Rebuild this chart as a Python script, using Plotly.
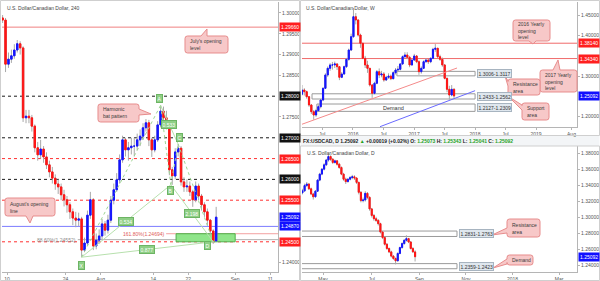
import plotly.graph_objects as go
import pandas as pd

W, H = 600, 281
FONT = "Liberation Sans"
FS = 5

def PX(x):
    return x / W

def PY(y):
    return 1 - y / H

# ---------------- 4H panel (left) ----------------
h4_first_open = 1.2988
h4_close = [1.2983, 1.2877, 1.2889, 1.2897, 1.2911, 1.2926, 1.2916, 1.2748, 1.2752, 1.2748,
            1.2728, 1.2676, 1.2659, 1.2673, 1.2654, 1.2635, 1.2618, 1.2603, 1.2589, 1.2582,
            1.2563, 1.2551, 1.2539, 1.2522, 1.2507, 1.2502, 1.2505, 1.2430, 1.2447, 1.2514,
            1.2551, 1.2440, 1.2454, 1.2464, 1.2493, 1.2478, 1.2502, 1.2550, 1.2575, 1.2599,
            1.2647, 1.2695, 1.2671, 1.2676, 1.2680, 1.2680, 1.2695, 1.2704, 1.2724, 1.2736,
            1.2695, 1.2671, 1.2695, 1.2731, 1.2764, 1.2748, 1.2733, 1.2623, 1.2608, 1.2666,
            1.2675, 1.2594, 1.2582, 1.2584, 1.2570, 1.2551, 1.2584, 1.2560, 1.2539, 1.2522,
            1.2502, 1.2476, 1.2452, 1.25092]
h4_high = [1.2995, 1.2988, 1.2905, 1.2912, 1.2925, 1.2935, 1.2932, 1.2920, 1.2767, 1.2767,
           1.2755, 1.2732, 1.2690, 1.2695, 1.2680, 1.2665, 1.2645, 1.2630, 1.2612, 1.2600,
           1.2590, 1.2575, 1.2560, 1.2545, 1.2530, 1.2522, 1.2520, 1.2510, 1.2460, 1.2525,
           1.2570, 1.2555, 1.2470, 1.2480, 1.2505, 1.2500, 1.2515, 1.2560, 1.2590, 1.2615,
           1.2660, 1.2705, 1.2700, 1.2690, 1.2700, 1.2700, 1.2710, 1.2720, 1.2735, 1.2745,
           1.2743, 1.2700, 1.2705, 1.2740, 1.2778, 1.2775, 1.2765, 1.2740, 1.2630, 1.2675,
           1.2685, 1.2680, 1.2605, 1.2600, 1.2595, 1.2575, 1.2595, 1.2590, 1.2565, 1.2545,
           1.2530, 1.2505, 1.2480, 1.2534]
h4_low = [1.2976, 1.2858, 1.2868, 1.2880, 1.2890, 1.2905, 1.2900, 1.2738, 1.2735, 1.2735,
          1.2715, 1.2665, 1.2645, 1.2650, 1.2640, 1.2625, 1.2605, 1.2590, 1.2575, 1.2565,
          1.2550, 1.2535, 1.2520, 1.2505, 1.2490, 1.2485, 1.2488, 1.2413, 1.2425, 1.2440,
          1.2505, 1.2430, 1.2432, 1.2445, 1.2455, 1.2465, 1.2470, 1.2495, 1.2540, 1.2570,
          1.2590, 1.2640, 1.2655, 1.2645, 1.2660, 1.2655, 1.2670, 1.2680, 1.2695, 1.2715,
          1.2680, 1.2654, 1.2665, 1.2690, 1.2725, 1.2735, 1.2720, 1.2610, 1.2587, 1.2600,
          1.2655, 1.2585, 1.2570, 1.2570, 1.2560, 1.2534, 1.2545, 1.2550, 1.2525, 1.2510,
          1.2490, 1.2465, 1.2445, 1.2450]
# trading-day index (0 = 10 Jul), one bar per half day
h4_day = [-0.75 + 0.5 * i for i in range(len(h4_close))]
h4_tick_day = [0, 10, 16, 25, 31, 39, 45]
h4_tick_text = ["10", "24", "Aug", "14", "22", "Sep", "11"]
h4_ytick = [1.24, 1.275, 1.285, 1.29, 1.295, 1.30]
h4_black_levels = [1.28, 1.27, 1.26]
h4_red_levels = [1.265, 1.255, 1.245]
july_open = 1.2966
aug_open = 1.2487
last_price = 1.25092
h4_price_tags = [(1.2966, "#ff1f1f"), (1.28, "#111111"), (1.27, "#111111"), (1.265, "#ff1f1f"),
                 (1.26, "#111111"), (1.255, "#ff1f1f"), (1.25092, "#1010ff"), (1.2487, "#1010ff"),
                 (1.245, "#ff1f1f")]
pattern_names = ["X", "A", "B", "C", "D"]
pattern_day = [12.75, 26.25, 28.0, 29.25, 35.25]
pattern_price = [1.2413, 1.2778, 1.2587, 1.2685, 1.2450]
pattern_ratios = [("0.534", 0, 2), ("0.533", 1, 3), ("2.198", 2, 4), ("0.877", 0, 4)]
prz_day = [28.9, 39.0]
prz_price = [1.2450, 1.24694]
fib_levels = [1.24694, 1.24552]
fib_text = ["161.80%(1.24694)", "88.60%(1.24552)"]
fib_start_day = [27.2, 12.1]

# ---------------- Weekly panel (top right) ----------------
w_first_open = 1.2550
w_close = [1.2656, 1.2614, 1.2490, 1.2285, 1.2119, 1.2037, 1.2144, 1.2243, 1.2408, 1.2698,
           1.3027, 1.3193, 1.3275, 1.3275, 1.3300, 1.3233, 1.2970, 1.3052, 1.3233, 1.3415,
           1.3646, 1.3975, 1.4470, 1.4389, 1.4017, 1.3812, 1.3440, 1.3275, 1.3193, 1.2780,
           1.2574, 1.2822, 1.3109, 1.3027, 1.3052, 1.2903, 1.2970, 1.3000, 1.2936, 1.3084,
           1.3151, 1.3168, 1.3300, 1.3480, 1.3522, 1.3465, 1.3275, 1.3398, 1.3498, 1.3356,
           1.3109, 1.3193, 1.3356, 1.3398, 1.3356, 1.3440, 1.3663, 1.3688, 1.3480, 1.3415,
           1.3275, 1.2945, 1.2673, 1.2532, 1.2673, 1.25092]
w_high = [1.2780, 1.2700, 1.2640, 1.2500, 1.2310, 1.2160, 1.2190, 1.2300, 1.2430, 1.2720,
          1.3070, 1.3240, 1.3320, 1.3350, 1.3360, 1.3320, 1.3250, 1.3100, 1.3260, 1.3450,
          1.3680, 1.4050, 1.4690, 1.4560, 1.4400, 1.4050, 1.3820, 1.3500, 1.3380, 1.3200,
          1.2800, 1.2860, 1.3150, 1.3190, 1.3130, 1.3100, 1.3010, 1.3070, 1.3040, 1.3120,
          1.3200, 1.3250, 1.3320, 1.3510, 1.3590, 1.3590, 1.3500, 1.3420, 1.3550, 1.3520,
          1.3390, 1.3240, 1.3390, 1.3440, 1.3420, 1.3460, 1.3700, 1.3793, 1.3700, 1.3530,
          1.3460, 1.3300, 1.2960, 1.2760, 1.2778, 1.2700]
w_low = [1.2520, 1.2520, 1.2440, 1.2240, 1.2060, 1.1920, 1.1990, 1.2110, 1.2200, 1.2380,
         1.2680, 1.2980, 1.3130, 1.3160, 1.3200, 1.3150, 1.2900, 1.2950, 1.3030, 1.3200,
         1.3380, 1.3620, 1.3950, 1.4280, 1.3980, 1.3700, 1.3420, 1.3200, 1.3080, 1.2740,
         1.2460, 1.2550, 1.2800, 1.2950, 1.2970, 1.2860, 1.2880, 1.2930, 1.2900, 1.2920,
         1.3040, 1.3100, 1.3140, 1.3280, 1.3450, 1.3420, 1.3220, 1.3260, 1.3380, 1.3320,
         1.3030, 1.3060, 1.3180, 1.3330, 1.3300, 1.3320, 1.3420, 1.3600, 1.3450, 1.3380,
         1.3230, 1.2920, 1.2600, 1.2413, 1.2500, 1.2450]
w_dates = pd.date_range("2015-03-02", periods=len(w_close), freq="14D")
w_tick_dates = ["2015-07-01", "2016-01-01", "2016-07-01", "2017-01-01", "2017-07-01",
                "2018-01-01", "2018-07-01", "2019-01-01", "2019-08-01"]
w_tick_text = ["Jul", "2016", "Jul", "2017", "Jul", "2018", "Jul", "2019", "Aug"]
w_ytick = [1.20, 1.30, 1.40, 1.45]
open_2016 = 1.3814
open_2017 = 1.3434
w_price_tags = [(1.3814, "#ff1f1f"), (1.3434, "#ff1f1f"), (1.25092, "#1010ff")]
w_zones = [("1.3006-1.3117", 1.3006, 1.3117, "2016-09-20"),
           ("1.2433-1.2562", 1.2433, 1.2562, "2015-05-01"),
           ("1.2127-1.2309", 1.2127, 1.2309, "2015-05-30")]
w_zone_end = "2018-01-01"
red_trend = (["2015-02-18", "2017-09-15"], [1.179, 1.320])
blue_trend = (["2016-06-11", "2018-01-01"], [1.1748, 1.2639])

# ---------------- Daily panel (bottom right) ----------------
d_first_open = 1.3310
d_close = [1.3334, 1.3400, 1.3420, 1.3360, 1.3295, 1.3260, 1.3330, 1.3469, 1.3544, 1.3606,
           1.3660, 1.3720, 1.3764, 1.3730, 1.3690, 1.3710, 1.3668, 1.3627, 1.3544, 1.3480,
           1.3450, 1.3480, 1.3500, 1.3510, 1.3495, 1.3440, 1.3316, 1.3212, 1.3220, 1.3303,
           1.3253, 1.3108, 1.3026, 1.2985, 1.2964, 1.2923, 1.2819, 1.2749, 1.2666, 1.2612,
           1.2570, 1.2517, 1.2487, 1.2458, 1.2550, 1.2624, 1.2674, 1.2715, 1.2736, 1.2694,
           1.2612, 1.2570, 1.25092]
d_high = [1.3360, 1.3425, 1.3445, 1.3430, 1.3375, 1.3310, 1.3345, 1.3480, 1.3560, 1.3620,
          1.3680, 1.3735, 1.3793, 1.3780, 1.3745, 1.3725, 1.3720, 1.3685, 1.3640, 1.3560,
          1.3500, 1.3495, 1.3520, 1.3535, 1.3530, 1.3505, 1.3450, 1.3330, 1.3250, 1.3330,
          1.3320, 1.3265, 1.3120, 1.3045, 1.3010, 1.2980, 1.2935, 1.2830, 1.2760, 1.2680,
          1.2625, 1.2585, 1.2530, 1.2500, 1.2565, 1.2635, 1.2690, 1.2730, 1.2778, 1.2745,
          1.2705, 1.2630, 1.2590]
d_low = [1.3290, 1.3320, 1.3385, 1.3345, 1.3280, 1.3225, 1.3250, 1.3320, 1.3455, 1.3530,
         1.3590, 1.3645, 1.3700, 1.3710, 1.3670, 1.3675, 1.3650, 1.3610, 1.3530, 1.3460,
         1.3420, 1.3440, 1.3465, 1.3480, 1.3470, 1.3420, 1.3290, 1.3190, 1.3190, 1.3200,
         1.3230, 1.3085, 1.3000, 1.2960, 1.2945, 1.2900, 1.2800, 1.2730, 1.2650, 1.2595,
         1.2555, 1.2500, 1.2470, 1.2413, 1.2450, 1.2540, 1.2610, 1.2660, 1.2700, 1.2680,
         1.2600, 1.2560, 1.2450]
# trading-day index (0 = 27 Mar 2017), one bar per two days
d_idx = [6 + 2 * k for k in range(len(d_close))]
d_tick_idx = [25, 70, 114, 157, 200, 243]
d_tick_text = ["May", "Jul", "Sep", "Nov", "2018", "Mar"]
d_ytick = [1.24, 1.26, 1.28, 1.30, 1.32, 1.34, 1.36, 1.38]
d_price_tags = [(1.25092, "#1010ff")]
d_zones = [("1.2831-1.2763", 1.2763, 1.2831), ("1.2359-1.2423", 1.2359, 1.2423)]
d_zone_end = 148.7

hdr_close, hdr_change, hdr_pct = 1.25092, 0.00019, 0.02
hdr_o, hdr_h, hdr_l, hdr_c = 1.25073, 1.25343, 1.25041, 1.25092

# ---------------------------------------------------------------
fig = go.Figure()
shapes, annotations = [], []


def add_candles(x, first_open, c, h, l, xa, ya):
    o = [first_open] + c[:-1]
    hi = [max(a, b, d) for a, b, d in zip(h, o, c)]
    lo = [min(a, b, d) for a, b, d in zip(l, o, c)]
    bh = [max(a, b) for a, b in zip(o, c)]
    bl = [min(a, b) for a, b in zip(o, c)]
    g = "#a9a9a9"
    fig.add_trace(go.Candlestick(x=x, open=o, high=hi, low=lo, close=c, xaxis=xa, yaxis=ya,
                                 increasing=dict(line=dict(color=g, width=1), fillcolor=g),
                                 decreasing=dict(line=dict(color=g, width=1), fillcolor=g),
                                 whiskerwidth=0, hoverinfo="skip", showlegend=False))
    fig.add_trace(go.Candlestick(x=x, open=o, high=bh, low=bl, close=c, xaxis=xa, yaxis=ya,
                                 increasing=dict(line=dict(color="#1414ff", width=1), fillcolor="#1414ff"),
                                 decreasing=dict(line=dict(color="#ff1414", width=1), fillcolor="#ff1414"),
                                 whiskerwidth=0, hoverinfo="skip", showlegend=False))


add_candles(h4_day, h4_first_open, h4_close, h4_high, h4_low, "x", "y")
add_candles(w_dates, w_first_open, w_close, w_high, w_low, "x2", "y2")
add_candles(d_idx, d_first_open, d_close, d_high, d_low, "x3", "y3")


def hline(price, xref, yref, color, dash="solid", width=1, x0=0, x1=1):
    shapes.append(dict(type="line", xref=xref, yref=yref, x0=x0, x1=x1, y0=price, y1=price,
                       line=dict(color=color, width=width, dash=dash), layer="below"))


def price_tag(price, color, yref, xpx):
    annotations.append(dict(text=f"{price:.5f}", x=PX(xpx), xref="paper", xanchor="left",
                            y=price, yref=yref, yanchor="middle", showarrow=False,
                            bgcolor=color, borderpad=1,
                            font=dict(family=FONT, size=FS, color="white")))


def zone_tag(text, price, yref, xpx):
    annotations.append(dict(text=text, x=PX(xpx), xref="paper", xanchor="left",
                            y=price, yref=yref, yanchor="middle", showarrow=False,
                            bgcolor="#dfe7ee", bordercolor="#a7b4c0", borderwidth=1, borderpad=0.5,
                            font=dict(family=FONT, size=FS, color="#333")))


def callout(text, x0, y0, x1, y1, side, b1, b2, tip, r=2.5):
    def P(x, y):
        return f"{PX(x):.5f},{PY(y):.5f}"
    s = f"M {P(x0 + r, y0)}"
    if side == "top":
        s += f" L {P(b1, y0)} L {P(*tip)} L {P(b2, y0)}"
    s += f" L {P(x1 - r, y0)} Q {P(x1, y0)} {P(x1, y0 + r)}"
    if side == "right":
        s += f" L {P(x1, b1)} L {P(*tip)} L {P(x1, b2)}"
    s += f" L {P(x1, y1 - r)} Q {P(x1, y1)} {P(x1 - r, y1)}"
    if side == "bottom":
        s += f" L {P(b2, y1)} L {P(*tip)} L {P(b1, y1)}"
    s += f" L {P(x0 + r, y1)} Q {P(x0, y1)} {P(x0, y1 - r)}"
    if side == "left":
        s += f" L {P(x0, b2)} L {P(*tip)} L {P(x0, b1)}"
    s += f" L {P(x0, y0 + r)} Q {P(x0, y0)} {P(x0 + r, y0)} Z"
    shapes.append(dict(type="path", path=s, xref="paper", yref="paper", fillcolor="#f7c8c8",
                       line=dict(color="#e78c8c", width=1), layer="above"))
    annotations.append(dict(text=text, x=PX(x0 + 3), y=PY((y0 + y1) / 2), xref="paper", yref="paper",
                            xanchor="left", yanchor="middle", align="left", showarrow=False,
                            font=dict(family=FONT, size=FS, color="#3a3a3a")))


# ---- left panel decorations ----
for p in h4_black_levels:
    hline(p, "x domain", "y", "#1a1a1a", "dot")
for p in h4_red_levels:
    hline(p, "x domain", "y", "#ff3030", "dot")
hline(july_open, "x domain", "y", "#f08080")
hline(aug_open, "x domain", "y", "#7b7bff")
H4_XMAX = 46.32
for lvl, txt, sd, col in zip(fib_levels, fib_text, fib_start_day, ["#f3a0a0", "#b0b0b0"]):
    hline(lvl, "x", "y", col, "solid", 1, sd, H4_XMAX)
    annotations.append(dict(text=txt, x=sd, xref="x", xanchor="right", y=lvl, yref="y",
                            yanchor="middle", showarrow=False,
                            font=dict(family=FONT, size=FS, color="#e05a5a" if col == "#f3a0a0" else "#8a8a8a")))
shapes.append(dict(type="rect", xref="x", yref="y", x0=prz_day[0], x1=prz_day[1], y0=prz_price[0],
                   y1=prz_price[1], fillcolor="#8fe58a", line=dict(color="#4fb04a", width=1), layer="below"))

# harmonic pattern
zig = [(0, 1), (1, 2), (2, 3), (3, 4)]
diag = [(0, 2), (1, 3), (2, 4), (0, 4)]
for a, b in zig:
    fig.add_trace(go.Scatter(x=[pattern_day[a], pattern_day[b]], y=[pattern_price[a], pattern_price[b]],
                             xaxis="x", yaxis="y", mode="lines", hoverinfo="skip", showlegend=False,
                             line=dict(color="#9fd494", width=1, dash="dot")))
for a, b in diag:
    fig.add_trace(go.Scatter(x=[pattern_day[a], pattern_day[b]], y=[pattern_price[a], pattern_price[b]],
                             xaxis="x", yaxis="y", mode="lines", hoverinfo="skip", showlegend=False,
                             line=dict(color="#b7e0ad", width=1)))
gfont = dict(family=FONT, size=FS, color="white")
shifts = {"X": (0, -8), "A": (-1, 7), "B": (0, -6), "C": (1, 7), "D": (-6, -4)}
for n, dx, py_ in zip(pattern_names, pattern_day, pattern_price):
    annotations.append(dict(text=n, x=dx, y=py_, xref="x", yref="y", showarrow=False,
                            xshift=shifts[n][0], yshift=shifts[n][1], bgcolor="#8fcf86",
                            bordercolor="#6db463", borderwidth=1, borderpad=0.5, font=gfont))
for txt, a, b in pattern_ratios:
    annotations.append(dict(text=txt, x=(pattern_day[a] + pattern_day[b]) / 2,
                            y=(pattern_price[a] + pattern_price[b]) / 2, xref="x", yref="y",
                            showarrow=False, bgcolor="#8fcf86", bordercolor="#6db463", borderwidth=1,
                            borderpad=0.5, font=gfont))

for p, c in h4_price_tags:
    price_tag(p, c, "y", 279)

callout("July's opening<br>level", 185, 36, 228, 53, "top", 201, 207, (207, 29))
callout("Harmonic<br>bat pattern", 98, 104, 139, 122, "right", 109, 115, (151, 114))
callout("August's opening<br>line", 5, 198, 55, 216, "bottom", 26, 33, (30, 223))

# ---- weekly decorations ----
hline(open_2016, "x2 domain", "y2", "#f06a6a")
hline(open_2017, "x2 domain", "y2", "#f06a6a")
for txt, lo_, hi_, start in w_zones:
    shapes.append(dict(type="rect", xref="x2", yref="y2", x0=start, x1=w_zone_end, y0=lo_, y1=hi_,
                       fillcolor="rgba(255,255,255,0)", line=dict(color="#9a9a9a", width=1), layer="below"))
    zone_tag(txt, (lo_ + hi_) / 2, "y2", 477)
annotations.append(dict(text="Demand", x="2016-09-01", xref="x2", y=(1.2127 + 1.2309) / 2, yref="y2",
                        showarrow=False, font=dict(family=FONT, size=FS + 0.5, color="#333")))
shapes.append(dict(type="line", xref="x2", yref="y2", x0=red_trend[0][0], x1=red_trend[0][1],
                   y0=red_trend[1][0], y1=red_trend[1][1], line=dict(color="#f48a8a", width=1)))
shapes.append(dict(type="line", xref="x2", yref="y2", x0=blue_trend[0][0], x1=blue_trend[0][1],
                   y0=blue_trend[1][0], y1=blue_trend[1][1], line=dict(color="#6a6aff", width=1)))
for p, c in w_price_tags:
    price_tag(p, c, "y2", 578)
callout("2016 Yearly<br>opening<br>level", 513, 20, 550, 41, "bottom", 529, 536, (533, 44))
callout("2017 Yearly<br>opening<br>level", 540, 70, 577, 92, "top", 553, 560, (558, 60))
callout("Resistance<br>area", 508, 79, 540, 95, "left", 81, 86, (505, 76))
callout("Support<br>area", 522, 103, 549, 120, "left", 105, 110, (509, 97))

# ---- daily decorations ----
for txt, lo_, hi_ in d_zones:
    shapes.append(dict(type="rect", xref="x3", yref="y3", x0=0, x1=d_zone_end, y0=lo_, y1=hi_,
                       fillcolor="rgba(255,255,255,0)", line=dict(color="#9a9a9a", width=1), layer="below"))
    zone_tag(txt, (lo_ + hi_) / 2, "y3", 459)
for p, c in d_price_tags:
    price_tag(p, c, "y3", 578)
callout("Resistance<br>area", 507, 219, 540, 237, "left", 228, 233, (492, 235))
callout("Demand", 507, 255, 533, 265, "left", 259, 264, (493, 268))

# ---- frames, titles, header ----
for (x0, y0, x1, y1) in [(0.5, 0.5, 299.5, 280.5), (300.5, 0.5, 599.5, 135.5), (300.5, 146, 599.5, 280.5)]:
    shapes.append(dict(type="rect", xref="paper", yref="paper", x0=PX(x0), x1=PX(x1), y0=PY(y1), y1=PY(y0),
                       line=dict(color="#cfcfcf", width=1), fillcolor="rgba(0,0,0,0)", layer="above"))
shapes.append(dict(type="rect", xref="paper", yref="paper", x0=PX(300.5), x1=PX(599.5), y0=PY(146), y1=PY(136),
                   line=dict(width=0), fillcolor="#f3f5f7", layer="below"))
for txt, x, y in [("U.S. Dollar/Canadian Dollar, 240", 5, 8.5), ("U.S. Dollar/Canadian Dollar, W", 304, 8.5),
                  ("U.S. Dollar/Canadian Dollar, D", 305, 152.5)]:
    annotations.append(dict(text=txt, x=PX(x), y=PY(y), xref="paper", yref="paper", xanchor="left",
                            yanchor="middle", showarrow=False, font=dict(family=FONT, size=FS, color="#444")))
G = "#1fa21f"
hdr = (f"<b>FX:USDCAD, D {hdr_close:.5f} <span style='color:{G}'>▲</span> +{hdr_change:.5f} (+{hdr_pct:.2f}%) "
       f"O: <span style='color:{G}'>{hdr_o:.5f}</span> H: <span style='color:{G}'>{hdr_h:.5f}</span> "
       f"L: <span style='color:{G}'>{hdr_l:.5f}</span> C: <span style='color:{G}'>{hdr_c:.5f}</span></b>")
annotations.append(dict(text=hdr, x=PX(301), y=PY(140.8), xref="paper", yref="paper", xanchor="left",
                        yanchor="middle", showarrow=False, font=dict(family=FONT, size=FS, color="#222")))

tickfont = dict(family=FONT, size=FS, color="#555")
xcommon = dict(showgrid=False, zeroline=False, showline=True, linecolor="#b5b5b5", linewidth=1,
               ticks="outside", ticklen=2, tickcolor="#b5b5b5", tickfont=tickfont,
               rangeslider=dict(visible=False), fixedrange=True)
ycommon = dict(showgrid=False, zeroline=False, showline=True, linecolor="#b5b5b5", linewidth=1,
               side="right", ticks="outside", ticklen=2, tickcolor="#b5b5b5", tickfont=tickfont,
               fixedrange=True)

fig.update_layout(
    width=W, height=H, margin=dict(l=0, r=0, t=0, b=0), autosize=False,
    paper_bgcolor="white", plot_bgcolor="white", showlegend=False, hovermode=False,
    xaxis=dict(domain=[PX(2), PX(278)], anchor="y", range=[-0.855, H4_XMAX],
               tickvals=h4_tick_day, ticktext=h4_tick_text, **xcommon),
    yaxis=dict(domain=[PY(272), PY(2)], anchor="x", range=[1.23774, 1.30264],
               tickvals=h4_ytick, ticktext=[f"{v:.5f}" for v in h4_ytick], **ycommon),
    xaxis2=dict(domain=[PX(302), PX(577)], anchor="y2", type="date", range=["2015-03-02", "2019-09-03"],
                tickvals=w_tick_dates, ticktext=w_tick_text, **xcommon),
    yaxis2=dict(domain=[PY(127), PY(2)], anchor="x2", range=[1.174, 1.4834],
                tickvals=w_ytick, ticktext=[f"{v:.5f}" for v in w_ytick], **ycommon),
    xaxis3=dict(domain=[PX(302), PX(577)], anchor="y3", range=[5.6, 259.5],
                tickvals=d_tick_idx, ticktext=d_tick_text, **xcommon),
    yaxis3=dict(domain=[PY(272), PY(146)], anchor="x3", range=[1.2318, 1.3896],
                tickvals=d_ytick, ticktext=[f"{v:.5f}" for v in d_ytick], **ycommon),
    shapes=shapes, annotations=annotations,
)

fig.write_html("out.html")
